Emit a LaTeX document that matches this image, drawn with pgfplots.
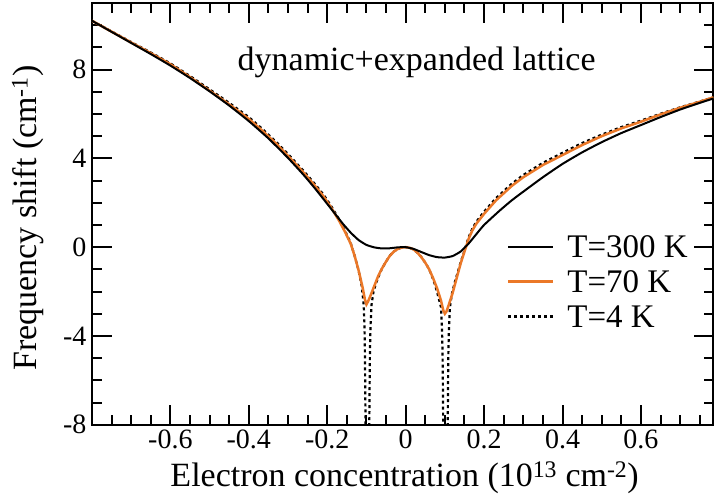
\documentclass[border=0pt]{standalone}
\usepackage{fontspec}
\setmainfont{Liberation Serif}
\usepackage{pgfplots}
\pgfplotsset{compat=1.18}
\definecolor{myorange}{RGB}{235,120,40}
\begin{document}
\begin{tikzpicture}
\begin{axis}[
  name=ax,
  at={(0,0)}, anchor=south west,
  scale only axis,
  width=622pt, height=422pt,
  xmin=-0.8, xmax=0.785, ymin=-8, ymax=11,
  axis line style={line width=2.2pt},
  every tick/.style={black, line width=2pt},
  major tick length=20pt, minor tick length=10pt,
  tick align=inside,
  xtick={-0.6,-0.4,-0.2,0,0.2,0.4,0.6},
  xticklabels={-0.6,-0.4,-0.2,0,0.2,0.4,0.6},
  minor xtick={-0.75,-0.7,-0.65,-0.55,-0.5,-0.45,-0.35,-0.3,-0.25,-0.15,-0.1,-0.05,0.05,0.1,0.15,0.25,0.3,0.35,0.45,0.5,0.55,0.65,0.7,0.75},
  ytick={-8,-4,0,4,8},
  yticklabels={-8,-4,0,4,8},
  minor ytick={-7,-6,-5,-3,-2,-1,1,2,3,5,6,7,9,10},
  tick label style={font=\fontsize{28}{30}\selectfont},
  xticklabel style={yshift=-2pt},
  yticklabel style={xshift=-2pt},
  xlabel={Electron concentration (10\textsuperscript{13} cm\textsuperscript{-2})},
  ylabel={Frequency shift (cm\textsuperscript{-1})},
  label style={font=\fontsize{34}{36}\selectfont},
  xlabel style={at={(axis description cs:0.503,-0.1256)}, anchor=center},
  ylabel style={at={(axis description cs:-0.103,0.49)}, anchor=center},
  unbounded coords=jump,
  legend style={draw=none, fill=none, at={(axis cs:0.258,-1.55)}, anchor=west,
    font=\fontsize{33}{35}\selectfont, row sep=11pt, inner sep=0pt,
    nodes={inner sep=1pt, text height=22pt, text depth=0pt},
    /tikz/every odd column/.append style={column sep=12pt}},
  legend cell align=left,
  legend image code/.code={\draw[#1] (0pt,0pt) -- (45pt,0pt);},
]
\addlegendimage{black, line width=2pt}
\addlegendentry{T=300 K}
\addlegendimage{myorange, line width=2.5pt}
\addlegendentry{T=70 K}
\addlegendimage{black, line width=2.2pt, dash pattern=on 3pt off 3pt}
\addlegendentry{T=4 K}
% T = 4 K
\addplot[black, line width=2.2pt, dash pattern=on 3pt off 3pt, forget plot] coordinates {
(-0.80,10.20) (-0.75,9.72) (-0.70,9.24) (-0.65,8.77) (-0.60,8.28) (-0.55,7.71) (-0.50,7.11)
(-0.45,6.50) (-0.40,5.86) (-0.365,5.32) (-0.33,4.74) (-0.295,4.10) (-0.26,3.43) (-0.235,2.92)
(-0.21,2.38) (-0.19,1.85) (-0.17,1.26) (-0.155,0.75) (-0.14,0.18) (-0.13,-0.40)
(-0.12,-1.05) (-0.112,-1.75) (-0.107,-2.60) (-0.105,-3.50) (-0.104,-4.60)
(-0.1032,-6.00) (-0.1025,-7.50) (-0.102,-8.60)
(-0.0975,nan)
(-0.093,-8.60) (-0.0925,-7.50) (-0.0918,-6.00) (-0.091,-4.60) (-0.0895,-3.50)
(-0.087,-2.60) (-0.082,-2.00) (-0.075,-1.60) (-0.068,-1.28) (-0.06,-0.95)
(-0.05,-0.65) (-0.04,-0.38) (-0.03,-0.20) (-0.02,-0.08) (-0.01,-0.02) (0.00,0.00)
(0.01,-0.03) (0.02,-0.10) (0.03,-0.25) (0.04,-0.45) (0.05,-0.70) (0.06,-1.00)
(0.068,-1.35) (0.075,-1.70) (0.082,-2.15) (0.09,-2.70) (0.0925,-3.60) (0.094,-4.70)
(0.0948,-6.00) (0.0955,-7.50) (0.096,-8.60)
(0.1015,nan)
(0.107,-8.60) (0.1075,-7.50) (0.1082,-6.00) (0.109,-4.70) (0.1105,-3.60) (0.113,-2.70)
(0.118,-2.10) (0.125,-1.60) (0.13,-1.30) (0.14,-0.70) (0.15,-0.15) (0.16,0.42)
(0.17,0.83) (0.18,1.14) (0.20,1.60) (0.23,2.20) (0.27,2.85) (0.30,3.25) (0.35,3.80)
(0.40,4.25) (0.45,4.69) (0.50,5.07) (0.55,5.41) (0.60,5.70) (0.65,6.01) (0.70,6.30)
(0.75,6.56) (0.785,6.75)
};
% T = 70 K
\addplot[myorange, line width=2.5pt, forget plot] coordinates {
(-0.80,10.20) (-0.75,9.71) (-0.70,9.22) (-0.65,8.74) (-0.60,8.24) (-0.55,7.66) (-0.50,7.05)
(-0.45,6.43) (-0.40,5.78) (-0.365,5.24) (-0.33,4.66) (-0.295,4.02) (-0.26,3.35) (-0.235,2.84)
(-0.21,2.30) (-0.19,1.78) (-0.17,1.20) (-0.155,0.70) (-0.14,0.15) (-0.13,-0.40)
(-0.12,-1.05) (-0.11,-1.80) (-0.104,-2.35) (-0.10,-2.58) (-0.096,-2.45) (-0.09,-2.20)
(-0.08,-1.75) (-0.07,-1.30) (-0.06,-0.95) (-0.05,-0.65) (-0.04,-0.38) (-0.03,-0.20)
(-0.02,-0.08) (-0.01,-0.02) (0.00,0.00) (0.01,-0.03) (0.02,-0.10) (0.03,-0.25)
(0.04,-0.45) (0.05,-0.70) (0.06,-1.00) (0.07,-1.40) (0.08,-1.85) (0.09,-2.40)
(0.096,-2.85) (0.10,-3.00) (0.104,-2.90) (0.11,-2.60) (0.12,-2.05) (0.13,-1.40)
(0.14,-0.75) (0.15,-0.20) (0.16,0.35) (0.17,0.75) (0.18,1.05) (0.20,1.50)
(0.23,2.10) (0.27,2.75) (0.30,3.15) (0.35,3.70) (0.40,4.15) (0.45,4.60)
(0.50,5.00) (0.55,5.35) (0.60,5.65) (0.65,5.98) (0.70,6.28) (0.75,6.55) (0.785,6.75)
};
% T = 300 K
\addplot[black, line width=2pt, smooth, tension=0.3, forget plot] coordinates {
(-0.80,10.20) (-0.75,9.70) (-0.70,9.20) (-0.65,8.70) (-0.60,8.18) (-0.55,7.62)
(-0.50,7.02) (-0.45,6.38) (-0.40,5.68) (-0.35,4.90) (-0.30,4.02) (-0.26,3.25)
(-0.23,2.62) (-0.20,1.95) (-0.18,1.50) (-0.16,1.05) (-0.14,0.65) (-0.12,0.32)
(-0.10,0.10) (-0.08,-0.01) (-0.06,-0.06) (-0.04,-0.05) (-0.02,-0.01) (0.00,0.00)
(0.02,-0.08) (0.04,-0.22) (0.06,-0.36) (0.08,-0.45) (0.10,-0.47) (0.12,-0.40)
(0.14,-0.20) (0.16,0.15) (0.18,0.58) (0.20,1.00) (0.24,1.65) (0.27,2.10)
(0.30,2.50) (0.35,3.15) (0.40,3.75) (0.45,4.27) (0.50,4.73) (0.55,5.14)
(0.60,5.50) (0.65,5.86) (0.70,6.20) (0.75,6.50) (0.785,6.70)
};
\node[font=\fontsize{34}{36}\selectfont, anchor=base] at (axis cs:0.028,7.95) {dynamic+expanded lattice};
\end{axis}
\pgfresetboundingbox
\path[use as bounding box] ([xshift=-92pt,yshift=-77pt]ax.south west) rectangle ([xshift=0.5pt,yshift=3pt]ax.north east);
\end{tikzpicture}
\end{document}
